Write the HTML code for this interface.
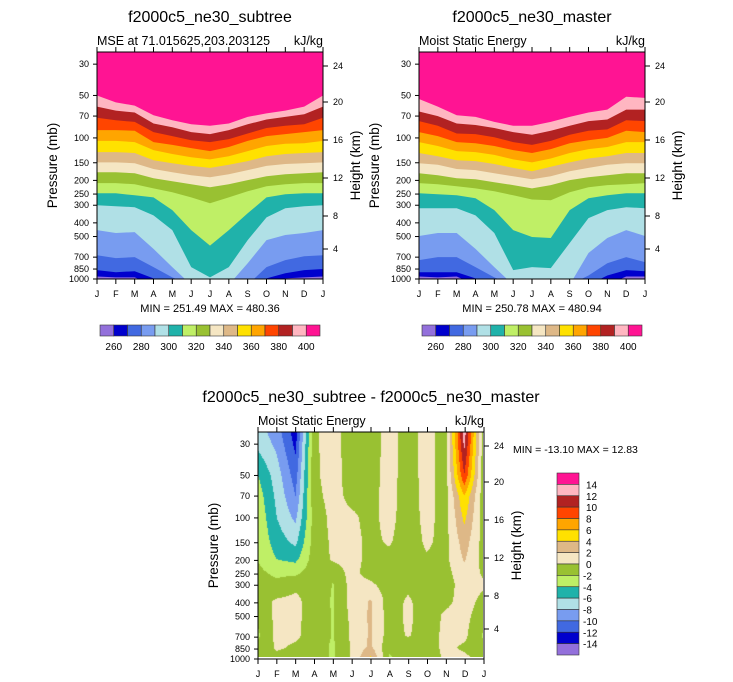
<!DOCTYPE html>
<html><head><meta charset="utf-8"><style>
html,body{margin:0;padding:0;background:#fff;}
#wrap{position:relative;width:733px;height:682px;overflow:hidden;font-family:"Liberation Sans",Arial,sans-serif;}
svg{position:absolute;left:0;top:0;}
canvas{position:absolute;left:258px;top:432px;}
</style></head><body>
<div id="wrap">
<canvas id="diffCanvas" width="225" height="225"></canvas>
<svg id="svg" width="733" height="682" xmlns="http://www.w3.org/2000/svg"></svg>
</div>
<script>
// ---------- data ----------
const monthLabels = ["J","F","M","A","M","J","J","A","S","O","N","D","J"];
const pressureTicks = [30,50,70,100,150,200,250,300,400,500,700,850,1000];
const heightTicks = [24,20,16,12,8,4];
const heightTickY = [66,102,140,178,216,249];
const mseLevels = [260,270,280,290,300,310,320,330,340,350,360,370,380,390,400];
const mseLabels = [260,280,300,320,340,360,380,400];
const bandColors = ["#9370DB","#0000CD","#4169E1","#789CF0","#B0E0E6","#20B2AA","#BFEF66","#99C132","#F5E6C3","#DEB887","#FFE100","#FFA500","#FF4500","#B22222","#FFB6C1","#FF1493"];
// pressure (mb) of each MSE contour level per month (subtree)
const subtree260 = [960,975,975,1100,1100,1100,1100,1100,1100,1100,990,975,960];
const subtree270 = [865,895,880,990,1100,1100,1100,1100,1100,990,910,865,850];
const subtree280 = [678,711,700,823,975,1100,1100,1100,1100,823,735,690,678];
const subtree290 = [450,472,465,612,823,1100,1100,1100,773,530,488,472,450];
const subtree300 = [300,305,310,354,450,823,975,823,530,366,315,305,300];
const subtree310 = [247,247,255,264,325,450,580,450,342,264,251,247,247];
const subtree320 = [209,209,213,228,243,264,290,264,239,220,213,209,209];
const subtree330 = [175,175,178,193,203,213,224,213,199,187,181,178,175];
const subtree340 = [149,149,151,166,175,184,190,181,169,158,153,151,149];
const subtree350 = [126,126,128,144,151,158,163,155,146,135,130,128,126];
const subtree360 = [105,105,107,122,130,137,142,135,124,114,110,109,105];
const subtree370 = [88,88,89,107,112,118,124,116,105,97,94,91,88];
const subtree380 = [72,75,77,91,97,104,107,102,93,85,82,80,72];
const subtree390 = [60,64,66,79,84,91,94,88,80,74,71,68,60];
const subtree400 = [50,56,59,69,75,80,82,79,71,67,64,60,50];
// master
const master260 = [960,975,960,1100,1100,1100,1100,1100,1100,1100,1100,960,960];
const master270 = [895,895,895,990,1100,1100,1100,1100,1100,1100,945,865,880];
const master280 = [735,700,700,823,975,1100,1100,1100,1100,945,773,700,759];
const master290 = [496,472,472,612,823,1100,1100,1100,1100,654,512,450,496];
const master300 = [315,315,315,354,472,865,823,837,556,370,325,310,315];
const master310 = [247,251,255,268,325,450,504,512,325,268,255,247,247];
const master320 = [209,213,220,228,239,255,273,277,243,224,216,213,209];
const master330 = [178,184,193,196,206,216,228,216,199,190,184,178,178];
const master340 = [151,155,166,169,178,187,196,187,172,163,155,151,151];
const master350 = [128,135,144,146,153,163,172,160,149,140,135,128,128];
const master360 = [107,114,124,126,132,142,149,140,128,120,116,107,107];
const master370 = [91,97,107,109,114,122,128,120,109,104,100,89,91];
const master380 = [76,82,93,94,99,107,112,105,95,89,87,75,76];
const master390 = [65,70,79,81,85,91,95,89,82,76,74,63,63];
const master400 = [53,60,69,71,77,82,82,77,71,66,63,51,52];
const subtreeLevels = [subtree260,subtree270,subtree280,subtree290,subtree300,subtree310,subtree320,subtree330,subtree340,subtree350,subtree360,subtree370,subtree380,subtree390,subtree400];
const masterLevels = [master260,master270,master280,master290,master300,master310,master320,master330,master340,master350,master360,master370,master380,master390,master400];
// difference field (kJ/kg) on pressure levels, one array per month
const diffPressures = [25,30,50,70,100,150,200,250,300,400,500,700,850,1000];
const diffJan = [-7,-6.5,-4,-3,-2.5,-2.3,-2.1,-1.5,-1,-1,-1.5,-2.3,-1.5,-0.5];
const diffFeb = [-9,-8.5,-7,-6.5,-6,-5,-4,-2.5,-1.5,0.3,0.5,0.5,0.3,-0.5];
const diffMar = [-13,-12.5,-11,-10,-8.5,-6.5,-4.5,-2.5,-0.5,0.5,0.5,0.4,-0.3,-0.5];
const diffApr = [-0.3,-0.3,-0.3,-0.5,-1,-1,-1,-0.8,-0.5,-1,-1,-1,-1,-1];
const diffMay = [0.8,0.8,0.7,0.6,0.5,0.3,0.2,-1,-2.1,-2.2,-2.1,-2.1,-2.3,-2.3];
const diffJun = [-1,-1,-0.8,-0.5,0.3,0.5,0.6,0.6,0.8,0.8,0.5,0.3,0.3,0.3];
const diffJul = [-1,-1,-0.8,-0.6,-0.5,-0.4,-0.5,-0.8,0.3,2.2,2.3,2.3,2.4,4.2];
const diffAug = [0.8,0.8,0.8,0.7,0.6,0.2,-0.5,-1,-1,-1,-1,-1,-1.5,-2.2];
const diffSep = [-1,-1,-1,-1,-1,-1,-1,-1,-0.5,0.3,0.4,0.2,-1,-1];
const diffOct = [0.8,0.8,0.8,0.7,0.6,0.3,-0.2,-1,-1,-1,-1,-1,-1,-1];
const diffNov = [-1,-1,-1,-0.9,-0.8,-0.6,-0.5,-0.8,-1,-0.5,0.3,0.5,0.5,0.3];
const diffDec = [13,12.5,10,6,4.5,3,2.2,1.5,1,0.8,0.6,0.5,-0.3,0.3];
const diffJan2 = [-1,-1,-1,-1,-0.8,-0.7,-0.6,-0.3,0.3,-0.5,-1,-2.2,-1.5,-0.5];
const diffColumns = [diffJan,diffFeb,diffMar,diffApr,diffMay,diffJun,diffJul,diffAug,diffSep,diffOct,diffNov,diffDec,diffJan2];
const diffLabels = [14,12,10,8,6,4,2,0,-2,-4,-6,-8,-10,-12,-14];

// ---------- helpers ----------
const NS = "http://www.w3.org/2000/svg";
const svg = document.getElementById("svg");
const PW = 226, PH = 227, PTOP_P = 24.6;
function el(tag, attrs, parent){const e=document.createElementNS(NS,tag);for(const k in attrs)e.setAttribute(k,attrs[k]);(parent||svg).appendChild(e);return e;}
function txt(s, x, y, size, anchor, parent, rot){const t=el("text",{x:x,y:y,"font-size":size,"text-anchor":anchor||"middle",fill:"#000"},parent);if(rot)t.setAttribute("transform","rotate("+rot+" "+x+" "+y+")");t.textContent=s;return t;}
function yOf(p, top){return top + PH*(Math.log(Math.min(p,1300))-Math.log(PTOP_P))/(Math.log(1000)-Math.log(PTOP_P));}
function xOf(m, left){return left + PW*m/12;}

function axes(left, top, title, subtitle, minmax, tag){
  const g = el("g",{});
  
  
  el("rect",{x:left,y:top,width:PW,height:PH,fill:"none",stroke:"#000","stroke-width":1},g);
  monthLabels.forEach((m,i)=>{
    const x=xOf(i,left);
    el("line",{x1:x,y1:top,x2:x,y2:top-5,stroke:"#000"},g);
    el("line",{x1:x,y1:top+PH,x2:x,y2:top+PH+5,stroke:"#000"},g);
    const t=txt(m,x,top+PH+18,9,"middle",g);
    
    
  });
  pressureTicks.forEach(p=>{
    const y=yOf(p,top);
    el("line",{x1:left,y1:y,x2:left-4,y2:y,stroke:"#000"},g);
    const t=txt(String(p),left-8,y+3,9,"end",g);
    
    
  });
  heightTicks.forEach((h,i)=>{
    const y=heightTickY[i]+(top-52);
    el("line",{x1:left+PW,y1:y,x2:left+PW+5,y2:y,stroke:"#000"},g);
    const t=txt(String(h),left+PW+10,y+3,9,"start",g);
    
    
  });
  const tt=txt(title,left+PW/2,top-30,16,"middle",g);
  
  
  const st=txt(subtitle,left,top-7,12.5,"start",g);
  
  
  const un=txt("kJ/kg",left+PW,top-7,12.5,"end",g);
  
  
  const yt=txt("Pressure (mb)",left-40,top+PH/2,13.5,"middle",g,-90);
  
  
  const ht=txt("Height (km)",left+PW+37,top+PH/2,13.5,"middle",g,-90);
  
  
  if(minmax){
    const mm=txt(minmax,left+PW/2,top+PH+33,11,"middle",g);
    
    
  }
}

function contourPlot(left, top, levelSets, tag){
  const cid="clip-"+tag;
  const cp=el("clipPath",{id:cid});
  el("rect",{x:left,y:top,width:PW,height:PH},cp);
  const g=el("g",{"clip-path":"url(#"+cid+")"});
  
  
  const base=el("rect",{x:left,y:top,width:PW,height:PH,fill:bandColors[0]},g);
  
  
  levelSets.forEach((arr,k)=>{
    let pts=arr.map((p,i)=>xOf(i,left).toFixed(1)+","+yOf(p,top).toFixed(1));
    pts.push((left+PW)+","+(top-2));
    pts.push(left+","+(top-2));
    const poly=el("polygon",{points:pts.join(" "),fill:bandColors[k+1]},g);
    
    
  });
}

function hColorbar(left, top, tag){
  const w=220/16;
  const g=el("g",{});
  
  
  bandColors.forEach((c,i)=>{
    const r=el("rect",{x:left+i*w,y:top,width:w,height:11,fill:c,stroke:"#333","stroke-width":0.6},g);
    
    
  });
  mseLabels.forEach(v=>{
    const k=mseLevels.indexOf(v)+1;
    const t=txt(String(v),left+k*w,top+25,10,"middle",g);
    
    
  });
}

// ---------- top plots ----------
contourPlot(97,52,subtreeLevels,"subtree");
axes(97,52,"f2000c5_ne30_subtree","MSE at 71.015625,203.203125","MIN = 251.49 MAX = 480.36","subtree");
hColorbar(100,325,"subtree");
contourPlot(419,52,masterLevels,"master");
axes(419,52,"f2000c5_ne30_master","Moist Static Energy","MIN = 250.78 MAX = 480.94","master");
hColorbar(422,325,"master");

// ---------- difference plot ----------
(function(){
  const cv=document.getElementById("diffCanvas");
  const ctx=cv.getContext("2d");
  const W=225,H=225;
  const lp=diffPressures.map(p=>Math.log(p));
  const lTop=Math.log(PTOP_P), lBot=Math.log(1000);
  function colorFor(v){
    if(v < -14) return bandColors[0];
    return bandColors[Math.min(15, Math.floor((v+14)/2)+1)];
  }
  for(let py=0;py<H;py++){
    const l=lTop+(lBot-lTop)*(py+0.5)/H;
    let r=0; while(r<lp.length-2 && lp[r+1]<l) r++;
    let fy=(l-lp[r])/(lp[r+1]-lp[r]); fy=Math.max(0,Math.min(1,fy));
    for(let px=0;px<W;px++){
      const m=(px+0.5)/W*12;
      const c=Math.min(11,Math.floor(m)); const fx=m-c;
      const a=diffColumns[c][r]*(1-fy)+diffColumns[c][r+1]*fy;
      const b=diffColumns[c+1][r]*(1-fy)+diffColumns[c+1][r+1]*fy;
      ctx.fillStyle=colorFor(a*(1-fx)+b*fx);
      ctx.fillRect(px,py,1,1);
    }
  }
})();
axes(258,432,"f2000c5_ne30_subtree - f2000c5_ne30_master","Moist Static Energy",null,"difference");
(function(){
  const mm=txt("MIN = -13.10 MAX =  12.83",513,453,10.5,"start");
  
  
  const g=el("g",{});
  
  
  const h=182/16;
  const rev=bandColors.slice().reverse();
  rev.forEach((c,i)=>{
    const r=el("rect",{x:557,y:473+i*h,width:22,height:h,fill:c,stroke:"#333","stroke-width":0.6},g);
    
    
  });
  diffLabels.forEach((v,i)=>{
    const t=txt(String(v),v<0?583:586,473+(i+1)*h+4,10,"start",g);
    
    
  });
})();
</script>
</body></html>
